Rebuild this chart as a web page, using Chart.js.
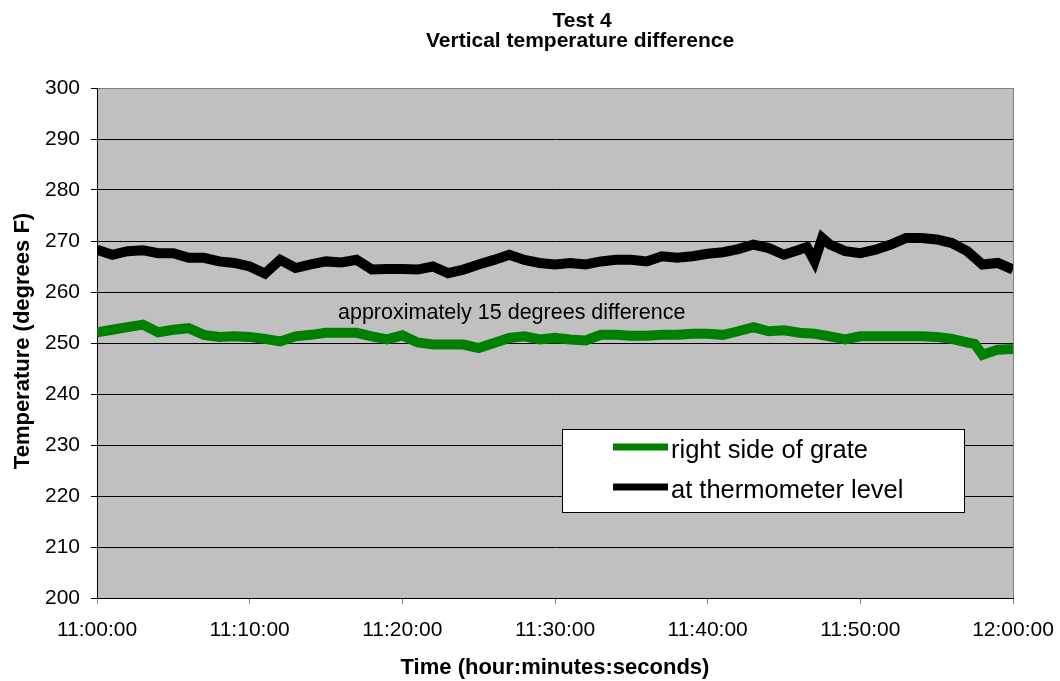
<!DOCTYPE html>
<html>
<head>
<meta charset="utf-8">
<title>Test 4 - Vertical temperature difference</title>
<script src="https://cdn.jsdelivr.net/npm/chart.js@4.4.1/dist/chart.umd.min.js"></script>
<style>
	html, body { margin: 0; padding: 0; background: #fff; }
	#wrap { width: 1060px; height: 681px; }
</style>
</head>
<body>
<div id="wrap"><canvas id="tempChart" width="1060" height="681"></canvas></div>
<script>
// readings taken off the original plot, minutes after 11:00:00
const thermoMinutes = [0, 1, 2, 3, 4, 5, 6, 7, 8, 9, 10, 11, 12, 13, 14, 15, 16, 17, 18, 19, 20,
	21, 22, 23, 24, 25, 26, 27, 28, 29, 30, 31, 32, 33, 34, 35, 36, 37, 38, 39, 40,
	41, 42, 43, 44, 45, 46, 46.5, 47, 47.5, 48, 49, 50, 51, 52, 53, 54, 55, 56, 57, 58, 59, 60];
const thermoTemps = [268.3, 267.3, 268.0, 268.2, 267.6, 267.6, 266.7, 266.7, 266.0, 265.7, 265.0,
	263.6, 266.3, 264.7, 265.4, 266.0, 265.8, 266.3, 264.4, 264.5, 264.5,
	264.4, 265.0, 263.7, 264.4, 265.4, 266.3, 267.3, 266.3, 265.7, 265.4,
	265.7, 265.4, 266.0, 266.3, 266.3, 266.0, 267.0, 266.7, 267.0, 267.5,
	267.8, 268.4, 269.3, 268.6, 267.3, 268.3, 268.8, 266.0, 270.6, 269.3, 268.0, 267.6,
	268.3, 269.3, 270.6, 270.6, 270.3, 269.6, 268.0, 265.4, 265.7, 264.4];

const grateMinutes = [0, 1, 2, 3, 4, 5, 6, 7, 8, 9, 10, 11, 12, 13, 14, 15, 16, 17, 18, 19, 20,
	21, 22, 23, 24, 25, 26, 27, 28, 29, 30, 31, 32, 33, 34, 35, 36, 37, 38, 39, 40,
	41, 42, 43, 44, 45, 46, 47, 48, 49, 50, 51, 52, 53, 54, 55, 56, 57, 57.5, 58, 59, 60];
const grateTemps = [252.1, 252.6, 253.1, 253.6, 252.1, 252.6, 252.9, 251.6, 251.2, 251.3, 251.2,
	250.8, 250.3, 251.3, 251.6, 252.0, 252.0, 252.0, 251.3, 250.7, 251.5,
	250.1, 249.7, 249.7, 249.7, 249.0, 250.0, 251.0, 251.3, 250.7, 251.0,
	250.7, 250.5, 251.6, 251.6, 251.4, 251.4, 251.6, 251.6, 251.8, 251.8,
	251.6, 252.3, 253.1, 252.3, 252.5, 252.0, 251.8, 251.3, 250.7, 251.3,
	251.3, 251.3, 251.3, 251.3, 251.2, 250.8, 250.1, 249.8, 247.7, 248.7, 248.8];

const seriesNames = ["right side of grate", "at thermometer level"];
const seriesColors = ["#008000", "#000000"];
const titleLines = ["Test 4", "Vertical temperature difference"];
const xTitle = "Time (hour:minutes:seconds)";
const yTitle = "Temperature (degrees F)";
const noteText = "approximately 15 degrees difference";

const FONT = "'Liberation Sans', Arial, Helvetica, sans-serif";
Chart.defaults.font.family = FONT;
Chart.defaults.color = "#000";

// pair up x and y arrays for a linear x axis
function toPoints(xs, ys) {
	return xs.map((x, i) => ({ x: x, y: ys[i] }));
}

// 0 -> 11:00:00, 60 -> 12:00:00
function clockLabel(min) {
	const h = 11 + Math.floor(min / 60);
	const m = min % 60;
	return h + ":" + String(m).padStart(2, "0") + ":00";
}

// gray plot area, frame, titles, note and boxed legend
const chartDecor = {
	id: "chartDecor",
	beforeDraw(chart) {
		const { ctx, chartArea: a } = chart;
		ctx.save();
		ctx.fillStyle = "#c0c0c0";
		ctx.fillRect(a.left, a.top, a.right - a.left, a.bottom - a.top);
		ctx.restore();
	},
	afterDraw(chart) {
		const { ctx, chartArea: a } = chart;
		ctx.save();
		// right edge of the plot frame
		ctx.strokeStyle = "#808080";
		ctx.lineWidth = 1;
		ctx.beginPath();
		ctx.moveTo(Math.round(a.right) + 0.5, a.top);
		ctx.lineTo(Math.round(a.right) + 0.5, a.bottom);
		ctx.stroke();

		ctx.fillStyle = "#000";
		ctx.textAlign = "center";
		ctx.textBaseline = "alphabetic";
		ctx.font = "bold 21px " + FONT;
		ctx.fillText(titleLines[0], 582, 27);
		ctx.fillText(titleLines[1], 580, 47);
		ctx.font = "bold 22px " + FONT;
		ctx.fillText(xTitle, 555, 674);

		ctx.save();
		ctx.translate(29, 341);
		ctx.rotate(-Math.PI / 2);
		ctx.fillText(yTitle, 0, 0);
		ctx.restore();

		ctx.font = "21.5px " + FONT;
		ctx.textAlign = "left";
		ctx.fillText(noteText, 338, 319);

		// legend box
		const lx = 562, ly = 429, lw = 402, lh = 83;
		ctx.fillStyle = "#fff";
		ctx.fillRect(lx, ly, lw, lh);
		ctx.strokeStyle = "#000";
		ctx.strokeRect(lx + 0.5, ly + 0.5, lw, lh);
		ctx.font = "25.5px " + FONT;
		ctx.textBaseline = "middle";
		const rows = [451, 491];
		for (let i = 0; i < seriesNames.length; i++) {
			ctx.strokeStyle = seriesColors[i];
			ctx.lineWidth = 7;
			ctx.beginPath();
			ctx.moveTo(613, rows[i] - 4);
			ctx.lineTo(668, rows[i] - 4);
			ctx.stroke();
			ctx.fillStyle = "#000";
			ctx.fillText(seriesNames[i], 671, rows[i]);
		}
		ctx.restore();
	},
};

const ctx = document.getElementById("tempChart").getContext("2d");
const chart = new Chart(ctx, {
	type: "line",
	data: {
		datasets: [
			{
				label: seriesNames[0],
				data: toPoints(grateMinutes, grateTemps),
				borderColor: seriesColors[0],
				backgroundColor: seriesColors[0],
				borderWidth: 10,
				pointRadius: 0,
				tension: 0,
			},
			{
				label: seriesNames[1],
				data: toPoints(thermoMinutes, thermoTemps),
				borderColor: seriesColors[1],
				backgroundColor: seriesColors[1],
				borderWidth: 10,
				pointRadius: 0,
				tension: 0,
			},
		],
	},
	options: {
		responsive: false,
		animation: false,
		devicePixelRatio: 1,
		layout: { padding: { top: 88, right: 47, left: 0, bottom: 0 } },
		plugins: {
			legend: { display: false },
			title: { display: false },
			tooltip: { enabled: false },
		},
		scales: {
			x: {
				type: "linear",
				min: 0,
				max: 60,
				afterFit(scale) {
					scale.height = 83;
					scale.paddingLeft = 0;
					scale.paddingRight = 0;
				},
				ticks: {
					stepSize: 10,
					padding: 14,
					maxRotation: 0,
					font: { size: 21 },
					callback: (v) => clockLabel(v),
				},
				grid: {
					drawOnChartArea: false,
					tickLength: 6,
					tickColor: "#808080",
				},
				border: { color: "#000", width: 1 },
			},
			y: {
				min: 200,
				max: 300,
				afterFit(scale) {
					scale.width = 97;
					scale.paddingTop = 0;
					scale.paddingBottom = 0;
				},
				ticks: {
					stepSize: 10,
					padding: 11,
					font: { size: 21 },
				},
				grid: {
					tickLength: 6,
					tickColor: "#000",
					color: (c) => (c.tick && c.tick.value === 300 ? "#808080" : "#000"),
				},
				border: { color: "#000", width: 1 },
			},
		},
	},
	plugins: [chartDecor],
});
</script>
</body>
</html>
